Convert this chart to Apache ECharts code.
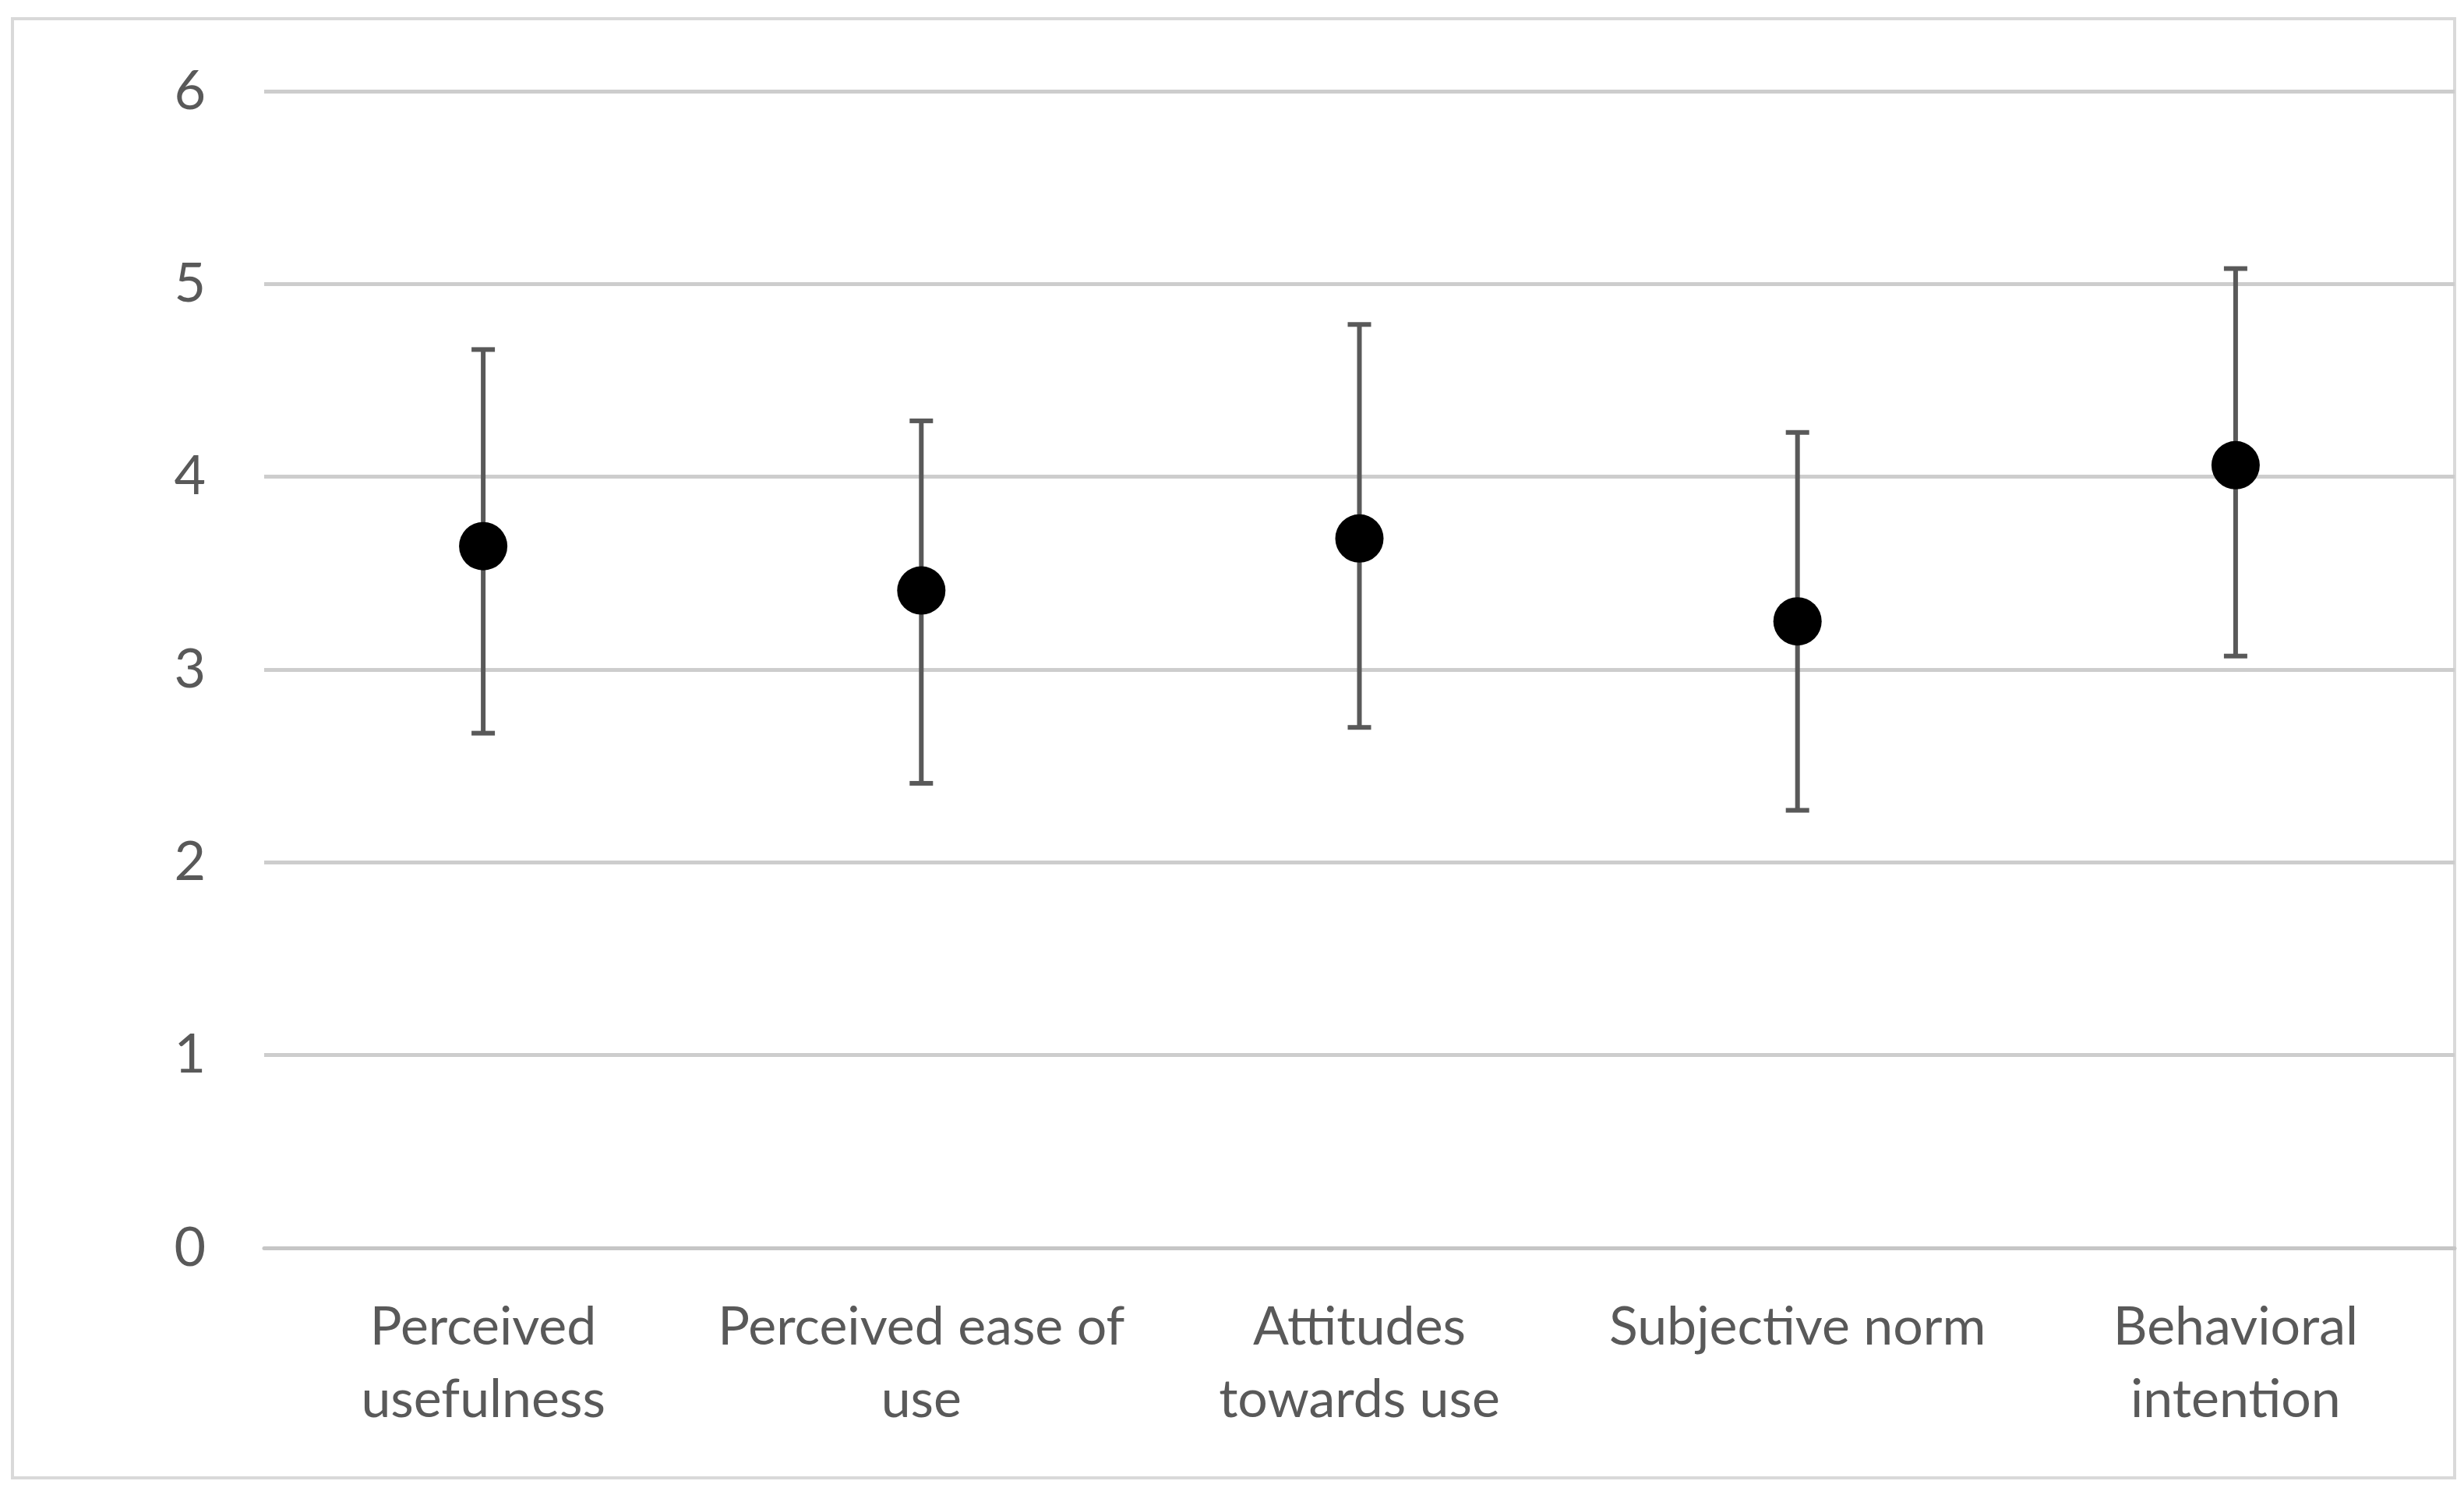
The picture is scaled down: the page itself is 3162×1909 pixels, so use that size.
<!DOCTYPE html>
<html>
<head>
<meta charset="utf-8">
<script src="https://cdn.jsdelivr.net/npm/echarts@6/dist/echarts.min.js"></script>
<style>
    html, body { margin: 0; padding: 0; background: #fff; }
    #main { width: 3162px; height: 1909px; }
</style>
</head>
<body>
<div id="main"></div>
<script>
// categories and the two-line labels printed under the axis
var categories = ['Perceived usefulness', 'Perceived ease of use', 'Attitudes towards use', 'Subjective norm', 'Behavioral intention'];
var tickLabels = ['Perceived\nusefulness', 'Perceived ease of\nuse', 'Attitudes\ntowards use', 'Subjective norm', 'Behavioral\nintention'];
// means and error bar ends
var means = [3.64, 3.41, 3.68, 3.25, 4.06];
var lower = [2.67, 2.41, 2.70, 2.27, 3.07];
var upper = [4.66, 4.29, 4.79, 4.23, 5.08];
var yTicks = [0, 1, 2, 3, 4, 5, 6];

var textColor = '#595959';
var fontFamily = 'Lato, "Open Sans", sans-serif';

var barData = [];
for (var i = 0; i < categories.length; i++) {
    barData.push([i, lower[i], upper[i]]);
}

var chart = echarts.init(document.getElementById('main'));
var option = {
    backgroundColor: '#ffffff',
    animation: false,
    // outer chart-area frame
    graphic: [{
        type: 'rect',
        shape: { x: 16, y: 24, width: 3134, height: 1872 },
        style: { fill: 'none', stroke: '#d9d9d9', lineWidth: 4 },
        silent: true
    }],
    grid: { left: 339, right: 12, top: 117, bottom: 308 },
    xAxis: {
        type: 'category',
        data: categories,
        axisLine: { show: true, lineStyle: { color: '#c6c6c6', width: 5 } },
        axisTick: { show: false },
        axisLabel: {
            interval: 0,
            margin: 56,
            color: textColor,
            fontFamily: fontFamily,
            fontSize: 68,
            lineHeight: 93,
            formatter: function(v, idx) { return tickLabels[idx]; }
        }
    },
    yAxis: {
        type: 'value',
        min: yTicks[0],
        max: yTicks[yTicks.length - 1],
        interval: 1,
        axisLine: { show: false },
        axisTick: { show: false },
        splitLine: { lineStyle: { color: '#cdcdcd', width: 5 } },
        axisLabel: {
            margin: 75,
            color: textColor,
            fontFamily: fontFamily,
            fontSize: 70
        }
    },
    series: [{
        type: 'custom',
        name: 'error',
        data: barData,
        encode: { x: 0, y: [1, 2] },
        z: 2,
        renderItem: function(params, api) {
            var x = api.value(0);
            var top = api.coord([x, api.value(2)]);
            var bot = api.coord([x, api.value(1)]);
            var cap = 15;
            var st = { stroke: '#595959', lineWidth: 6 };
            return {
                type: 'group',
                children: [
                    { type: 'line', shape: { x1: top[0], y1: top[1], x2: bot[0], y2: bot[1] }, style: st },
                    { type: 'line', shape: { x1: top[0] - cap, y1: top[1], x2: top[0] + cap, y2: top[1] }, style: st },
                    { type: 'line', shape: { x1: bot[0] - cap, y1: bot[1], x2: bot[0] + cap, y2: bot[1] }, style: st }
                ]
            };
        }
    }, {
        type: 'scatter',
        name: 'mean',
        data: means,
        symbol: 'circle',
        symbolSize: 62,
        z: 3,
        itemStyle: { color: '#000000', opacity: 1 }
    }]
};
chart.setOption(option);
</script>
</body>
</html>
